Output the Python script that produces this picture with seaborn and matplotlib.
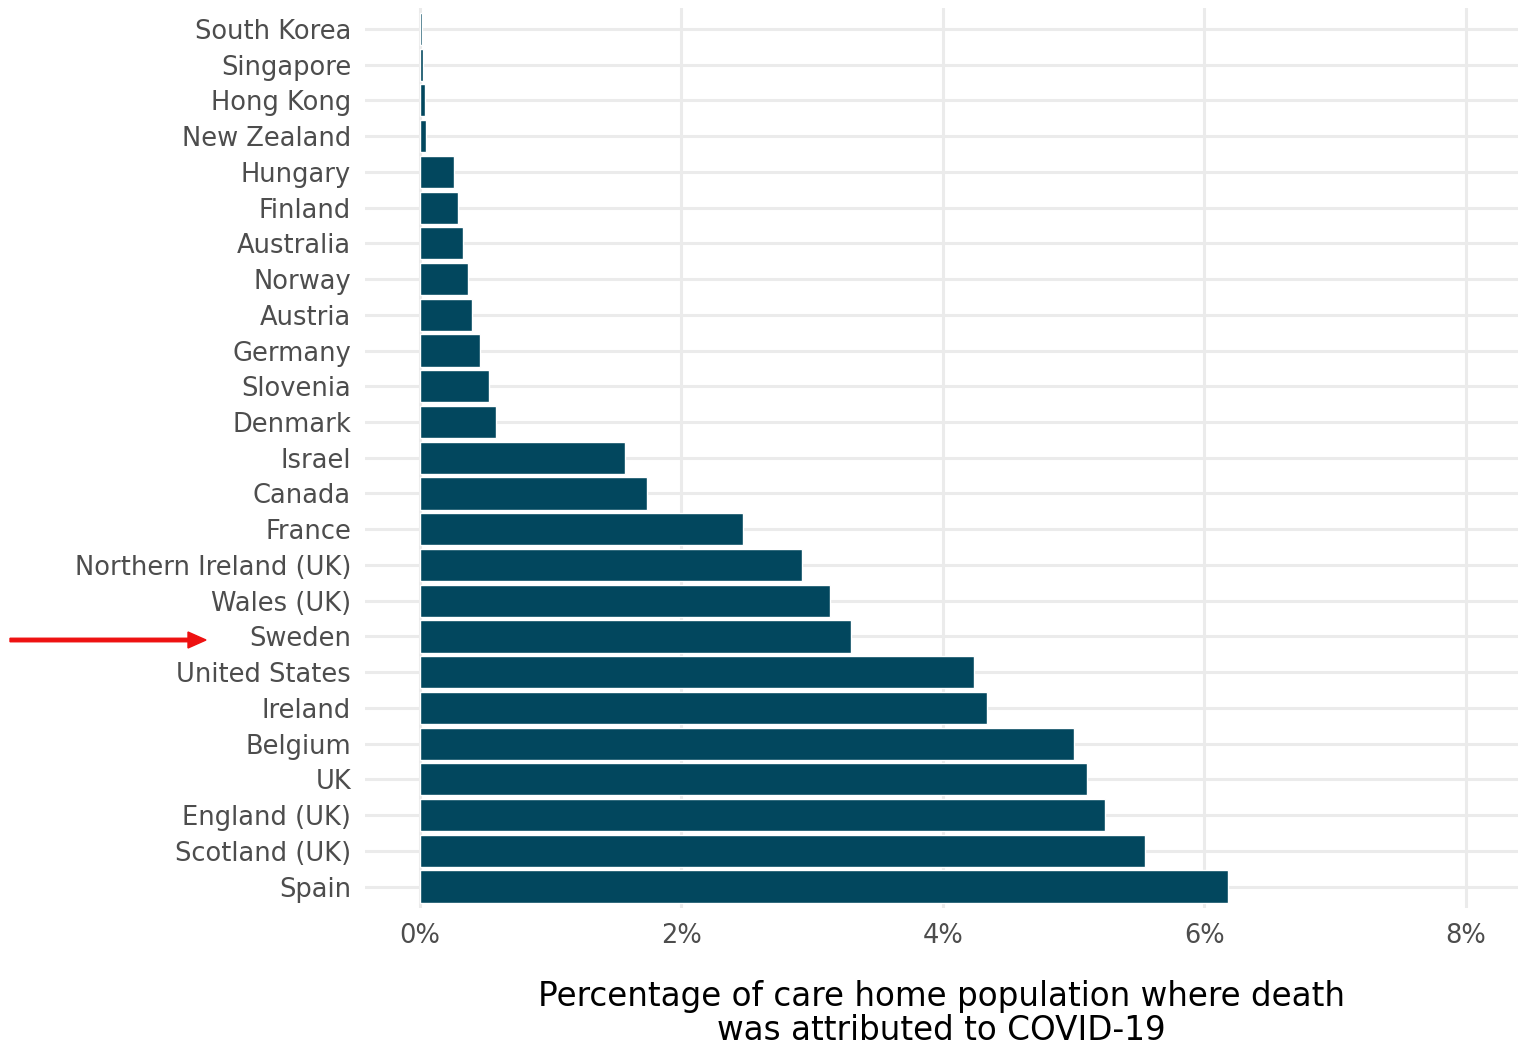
import matplotlib
matplotlib.use("Agg")
import matplotlib.pyplot as plt
import seaborn as sns
import pandas as pd
from matplotlib.ticker import FuncFormatter

countries = ["South Korea", "Singapore", "Hong Kong", "New Zealand", "Hungary", "Finland",
             "Australia", "Norway", "Austria", "Germany", "Slovenia", "Denmark", "Israel",
             "Canada", "France", "Northern Ireland (UK)", "Wales (UK)", "Sweden",
             "United States", "Ireland", "Belgium", "UK", "England (UK)", "Scotland (UK)", "Spain"]
values = [0.015, 0.02, 0.04, 0.05, 0.26, 0.29, 0.33, 0.37, 0.40, 0.46, 0.53, 0.58, 1.57,
          1.74, 2.47, 2.92, 3.14, 3.30, 4.24, 4.34, 5.00, 5.10, 5.24, 5.55, 6.18]
xticks = [0, 2, 4, 6, 8]

df = pd.DataFrame({"country": countries, "value": values})

sns.set_theme(style="whitegrid")
plt.rcParams['font.family'] = ['DejaVu Sans']

fig = plt.figure(figsize=(15.18, 10.48), dpi=100)
ax = fig.add_axes([365/1518, 1 - 908/1048, 1 - 365/1518, (908 - 7.5)/1048])

sns.barplot(data=df, y="country", x="value", order=countries, color="#02475e",
            saturation=1, width=0.9, ax=ax, orient="h")

ax.set_xlim(-0.42, 8.4)
ax.set_ylim(len(countries) - 0.4, -0.6)
ax.set_xticks(xticks)
ax.xaxis.set_major_formatter(FuncFormatter(lambda v, p: f"{v:.0f}%"))
ax.grid(True, axis="both", color="#ebebeb", linewidth=2.2)
ax.set_axisbelow(True)
for s in ax.spines.values():
    s.set_visible(False)
ax.tick_params(axis="both", length=0, labelsize=18.5, labelcolor="#4d4d4d")
ax.tick_params(axis="y", pad=10)
ax.tick_params(axis="x", pad=11)
ax.set_ylabel("")
ax.set_xlabel("Percentage of care home population where death\nwas attributed to COVID-19",
              fontsize=23.5, color="black", labelpad=22, linespacing=1.05)

fig.patches.append(matplotlib.patches.FancyArrow(
    10/1518, 1 - 640/1048, 178/1518, 0, width=3.5/1048, head_width=16/1048,
    head_length=18/1518, length_includes_head=False, color="#ee1111",
    transform=fig.transFigure, figure=fig))

fig.savefig("out.png", dpi=100)
